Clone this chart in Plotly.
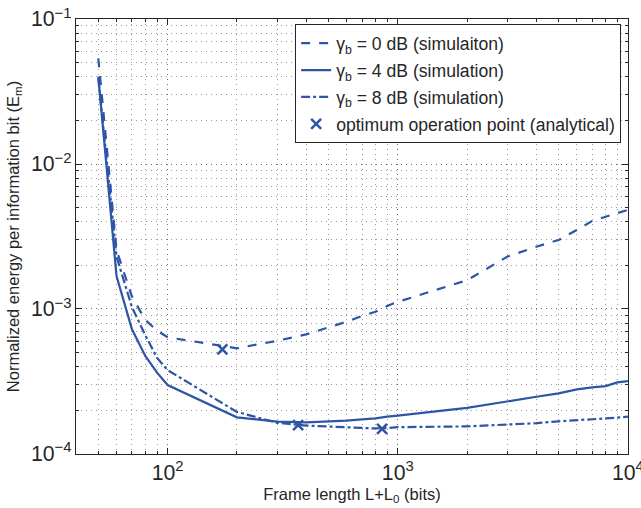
import plotly.graph_objects as go
import numpy as np

frame_len = [50, 60, 70, 80, 90, 100, 200, 300, 400, 500, 600, 700, 800, 900,
             1000, 2000, 3000, 4000, 5000, 6000, 7000, 8000, 9000, 10000]

e_0db = [0.0536, 2.55e-3, 1.22e-3, 8.4e-4, 7.1e-4, 6.38e-4, 5.36e-4, 6.04e-4, 6.68e-4,
         7.48e-4, 8.17e-4, 8.95e-4, 9.58e-4, 1.05e-3, 1.12e-3, 1.58e-3, 2.30e-3, 2.69e-3,
         2.99e-3, 3.51e-3, 4.05e-3, 4.33e-3, 4.57e-3, 4.82e-3]

e_4db = [0.040, 1.69e-3, 7.24e-4, 4.74e-4, 3.64e-4, 2.99e-4, 1.79e-4, 1.67e-4, 1.65e-4,
         1.67e-4, 1.70e-4, 1.73e-4, 1.76e-4, 1.81e-4, 1.84e-4, 2.08e-4, 2.29e-4, 2.48e-4,
         2.62e-4, 2.79e-4, 2.88e-4, 2.94e-4, 3.12e-4, 3.18e-4]

e_8db = [0.039, 2.3e-3, 1.03e-3, 6.6e-4, 4.6e-4, 3.79e-4, 1.95e-4, 1.64e-4, 1.57e-4,
         1.55e-4, 1.53e-4, 1.51e-4, 1.50e-4, 1.51e-4, 1.53e-4, 1.55e-4, 1.59e-4, 1.63e-4,
         1.68e-4, 1.71e-4, 1.73e-4, 1.75e-4, 1.78e-4, 1.81e-4]

opt_len = [173, 369, 855]
opt_e = [5.27e-4, 1.58e-4, 1.49e-4]

names = ["γ<sub>b</sub> = 0 dB (simulaiton)",
         "γ<sub>b</sub> = 4 dB (simulation)",
         "γ<sub>b</sub> = 8 dB (simulation)",
         "optimum operation point (analytical)"]

BLUE = "#2d55a6"
FONT = "Liberation Sans, Arial, Helvetica, sans-serif"
TXT = "#262626"

fig = go.Figure()
for y, dash, nm, g in [(e_0db, "dash", names[0], "a"),
                       (e_4db, "solid", names[1], "b"),
                       (e_8db, "dashdot", names[2], "c")]:
    fig.add_trace(go.Scatter(x=frame_len, y=y, mode="lines", name=nm, legendgroup=g,
                             line=dict(color=BLUE, width=2.2, dash=dash)))
fig.add_trace(go.Scatter(x=opt_len, y=opt_e, mode="markers", name=names[3], legendgroup="d",
                         marker=dict(symbol="x-thin", size=10, color=BLUE,
                                     line=dict(color=BLUE, width=2.5))))

axis_common = dict(
    type="log", dtick=1, exponentformat="power", showexponent="all",
    showline=True, linecolor=TXT, linewidth=1.2, mirror="allticks",
    ticks="inside", ticklen=6, tickcolor=TXT,
    showgrid=True, gridcolor="#6a6a6a", griddash="1px,4px", gridwidth=1,
    zeroline=False, automargin=False, ticklabeloverflow="allow",
    tickfont=dict(size=17, color=TXT, family=FONT),
    minor=dict(ticks="inside", ticklen=3, tickcolor=TXT, dtick="D1",
               showgrid=True, gridcolor="#9a9a9a", griddash="1px,4px", gridwidth=1),
)

fig.update_xaxes(**axis_common, range=[np.log10(40), 4.0003],
                 title=dict(text="Frame length L+L<sub>0</sub> (bits)", standoff=4,
                            font=dict(size=16.5, color=TXT, family=FONT)))
fig.update_yaxes(**axis_common, range=[-4.0002, -0.9998],
                 title=dict(text="Normalized energy per information bit (E<sub>m</sub>)", standoff=7,
                            font=dict(size=16.5, color=TXT, family=FONT)))

fig.update_layout(
    width=641, height=508,
    margin=dict(l=76, r=13, t=19, b=54),
    paper_bgcolor="white", plot_bgcolor="white",
    font=dict(family=FONT, color=TXT),
    legend=dict(x=0.397, y=0.988, xanchor="left", yanchor="top",
                bgcolor="white", bordercolor=TXT, borderwidth=1,
                font=dict(size=17.6, family=FONT, color=TXT),
                traceorder="grouped", tracegroupgap=1),
    showlegend=True,
)

fig.write_html("out.html", config={"displayModeBar": False},
               post_script="document.body.style.margin='0';document.body.style.overflow='hidden';")
